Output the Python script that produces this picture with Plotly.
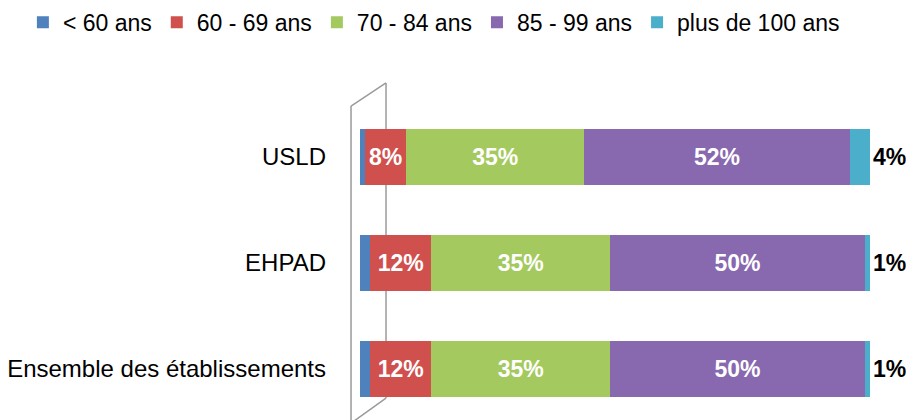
import plotly.graph_objects as go

categories = ["USLD", "EHPAD", "Ensemble des établissements"]
series_names = ["< 60 ans", "60 - 69 ans", "70 - 84 ans", "85 - 99 ans", "plus de 100 ans"]
under_60 = [1, 2, 2]
age_60_69 = [8, 12, 12]
age_70_84 = [35, 35, 35]
age_85_99 = [52, 50, 50]
over_100 = [4, 1, 1]

colors = ["#4F81BD", "#D0504E", "#A4C95E", "#8868AE", "#4BAFCB"]
values = [under_60, age_60_69, age_70_84, age_85_99, over_100]

FONT = "Liberation Sans, Arial, sans-serif"

fig = go.Figure()
for i, (name, vals, col) in enumerate(zip(series_names, values, colors)):
    if i == 0:
        tt, pos, tf = "", "none", dict(color="white")
    elif i == 4:
        tt, pos, tf = "%{x}%", "outside", dict(color="black", size=23, family=FONT, weight="bold")
    else:
        tt, pos, tf = "%{x}%", "inside", dict(color="white", size=23, family=FONT, weight="bold")
    fig.add_trace(go.Bar(
        y=categories, x=vals, name=name, orientation="h",
        marker=dict(color=col, line=dict(width=0)),
        texttemplate=tt, textposition=pos, textfont=tf,
        insidetextanchor="middle", cliponaxis=False,
        constraintext="none",
    ))

# 3D wall outline (paper coordinates)
wall = dict(type="line", xref="paper", yref="paper", line=dict(color="#9A9A9A", width=1.5), layer="below")
shapes = [
    dict(wall, x0=-0.0176, x1=-0.0176, y0=0.921, y1=-0.06),
    dict(wall, x0=0.051, x1=0.051, y0=0.991, y1=0.036),
    dict(wall, x0=-0.0176, x1=0.051, y0=0.921, y1=0.991),
    dict(wall, x0=0.051, x1=-0.0176, y0=0.036, y1=-0.04),
]

fig.update_layout(
    width=906, height=412,
    barmode="stack", bargap=0.48,
    paper_bgcolor="white", plot_bgcolor="white",
    margin=dict(l=352, r=44, t=72, b=10, autoexpand=False),
    font=dict(family=FONT, size=23, color="black"),
    showlegend=True,
    legend=dict(orientation="h", x=-0.661, xanchor="left", xref="paper",
                y=1.24, yanchor="top", yref="paper",
                font=dict(size=23, family=FONT), traceorder="normal",
                itemwidth=30),
    xaxis=dict(range=[0, 100], visible=False, showgrid=False, zeroline=False),
    yaxis=dict(range=[2.387, -0.726], showgrid=False, zeroline=False, showline=False,
               ticks="", ticklabelstandoff=33, tickfont=dict(size=24, family=FONT, color="black")),
    shapes=shapes,
)

fig.write_html("out.html")
